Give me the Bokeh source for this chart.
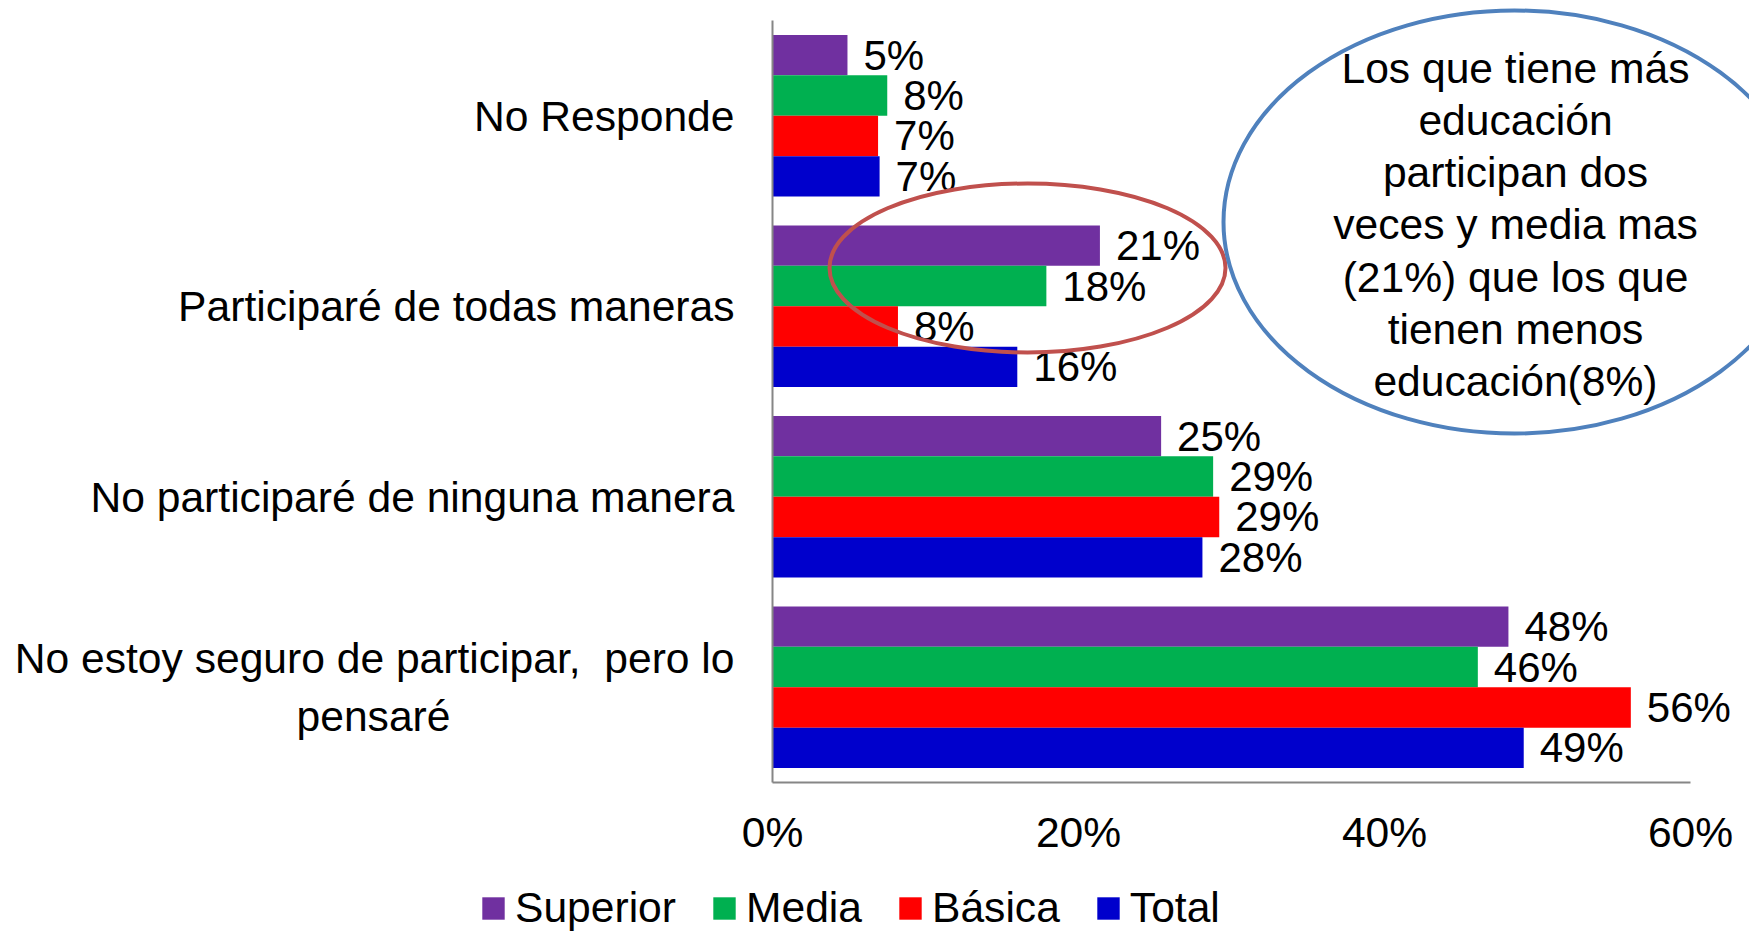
from bokeh.plotting import figure
from bokeh.models import (ColumnDataSource, FixedTicker, PrintfTickFormatter,
                          Legend, LegendItem, Range1d)
from bokeh.core.properties import value
from bokeh.embed import file_html
from bokeh.resources import INLINE

# ---------------- data ----------------
categories = [
    "No Responde",
    "Participaré de todas maneras",
    "No participaré de ninguna manera",
    "No estoy seguro de participar,\u00a0 pero lo\npensaré",
]
series_names = ["Superior", "Media", "Básica", "Total"]
superior = [4.9, 21.4, 25.4, 48.1]
media = [7.5, 17.9, 28.8, 46.1]
basica = [6.9, 8.2, 29.2, 56.1]
total = [7.0, 16.0, 28.1, 49.1]
x_ticks = [0, 20, 40, 60]
note_lines = [
    "Los que tiene más",
    "educación",
    "participan dos",
    "veces y media mas",
    "(21%) que los que",
    "tienen menos",
    "educación(8%)",
]

# ---------------- styles ----------------
colors = ["#7030A0", "#00B050", "#FF0000", "#0000CC"]
FONT = "Liberation Sans"
FS = "42.6px"
W = 1749
H_MAIN, H_LEG = 860, 72
FRAME_LEFT = 772
FRAME_W = W - FRAME_LEFT
FRAME_H = 782
PX_PER_X = 15.3           # pixels per percent
TOP_PAD = 20              # pixels above the axis top inside frame
PX_PER_Y = (FRAME_H - TOP_PAD) / 4.0
XMAX = FRAME_W / PX_PER_X
YMAX = 3.5 + TOP_PAD / PX_PER_Y


def dx(px):
    return (px - FRAME_LEFT) / PX_PER_X


def dy(py):
    return 3.5 - (py - TOP_PAD) / PX_PER_Y


n = len(categories)
cat_pos = [n - 1 - i for i in range(n)]
bar_h = 0.212
offsets = [1.5, 0.5, -0.5, -1.5]

p = figure(width=W, height=H_MAIN, output_backend="svg", toolbar_location=None,
           x_range=Range1d(0, XMAX), y_range=Range1d(-0.5, YMAX),
           min_border_left=FRAME_LEFT, min_border_right=0,
           min_border_top=0, min_border_bottom=H_MAIN - FRAME_H)
p.outline_line_color = None
p.xgrid.visible = False
p.ygrid.visible = False
p.background_fill_color = "white"
p.border_fill_color = "white"

all_vals = [superior, media, basica, total]
for k, (name, vals, col) in enumerate(zip(series_names, all_vals, colors)):
    ys = [c + offsets[k] * bar_h for c in cat_pos]
    src = ColumnDataSource(dict(y=ys, x=vals, label=[f"{v:.0f}%" for v in vals]))
    p.hbar(y="y", left=0, right="x", height=bar_h, source=src,
           fill_color=col, line_color=None)
    p.text(x="x", y="y", text="label", source=src, x_offset=16,
           text_baseline="middle", text_align="left",
           text_font=value(FONT), text_font_size="42px", text_color="black")

# red ellipse (highlight)
p.ellipse(x=dx(1027), y=dy(267.5), width=396, height=169,
          width_units="screen", height_units="screen",
          fill_color=None, line_color="#C0504D", line_width=4)

# blue ellipse with note
p.ellipse(x=dx(1514), y=dy(221.5), width=582, height=423,
          width_units="screen", height_units="screen",
          fill_color="white", line_color="#4F81BD", line_width=4)
p.text(x=[dx(1515)], y=[dy(224)], text=["\n".join(note_lines)],
       text_align="center", text_baseline="middle",
       text_font=value(FONT), text_font_size=FS, text_color="black",
       text_line_height=1.085)

# axes
p.xaxis.ticker = FixedTicker(ticks=x_ticks)
p.xaxis.formatter = PrintfTickFormatter(format="%d%%")
p.xaxis.bounds = (0, 60)
p.xaxis.axis_line_color = "#868686"
p.xaxis.axis_line_width = 2
p.xaxis.major_tick_line_color = None
p.xaxis.minor_tick_line_color = None
p.xaxis.major_tick_out = 0
p.xaxis.major_label_standoff = 25
p.xaxis.major_label_text_font = FONT
p.xaxis.major_label_text_font_size = FS
p.xaxis.major_label_text_color = "black"

p.yaxis.ticker = FixedTicker(ticks=cat_pos)
labels_shown = list(categories)
labels_shown[-1] = labels_shown[-1] + "\u00a0" * 24
p.yaxis.major_label_overrides = {c: lab for c, lab in zip(cat_pos, labels_shown)}
p.yaxis.bounds = (-0.5, 3.5)
p.yaxis.axis_line_color = "#868686"
p.yaxis.axis_line_width = 2
p.yaxis.major_tick_line_color = None
p.yaxis.minor_tick_line_color = None
p.yaxis.major_tick_out = 0
p.yaxis.major_label_standoff = 38
p.yaxis.major_label_text_font = FONT
p.yaxis.major_label_text_font_size = FS
p.yaxis.major_label_text_color = "black"

# ---------------- legend strip (separate root, so no frame alignment) ----------------
lg = figure(width=W, height=H_LEG, output_backend="svg", toolbar_location=None,
            x_range=Range1d(0, 1), y_range=Range1d(0, 1),
            x_axis_type=None, y_axis_type=None,
            min_border_left=0, min_border_right=0,
            min_border_top=0, min_border_bottom=0)
lg.outline_line_color = None
lg.xgrid.visible = False
lg.ygrid.visible = False
lg.background_fill_color = "white"
lg.border_fill_color = "white"
items = []
for name, col in zip(series_names, colors):
    # proxy bar placed outside the visible range: only its legend swatch shows
    r = lg.hbar(y=[-5], left=[0], right=[1], height=0.1, fill_color=col, line_color=None)
    items.append(LegendItem(label=name, renderers=[r]))
legend = Legend(items=items, orientation="horizontal", location=(479, 0),
                glyph_width=28, glyph_height=28, label_standoff=8, spacing=34,
                padding=0, margin=0, border_line_color=None,
                background_fill_alpha=0,
                label_text_font=FONT, label_text_font_size=FS,
                label_text_color="black")
lg.add_layout(legend, "center")

open("out.html", "w").write(file_html([p, lg], INLINE))
